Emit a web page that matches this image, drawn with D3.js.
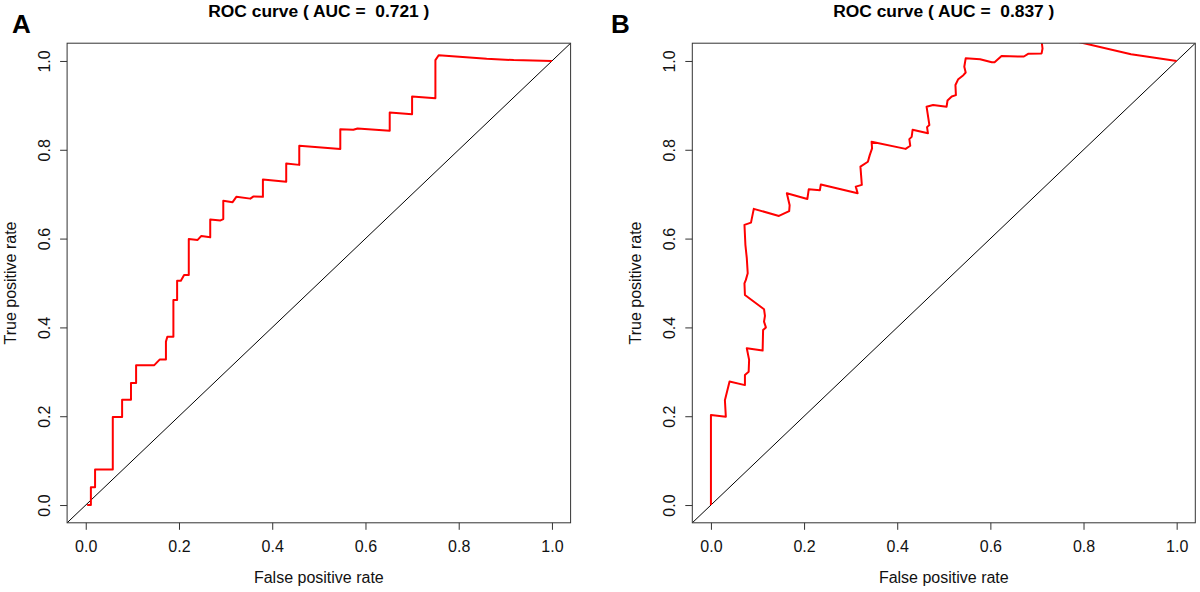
<!DOCTYPE html>
<html>
<head>
<meta charset="utf-8">
<script src="https://cdn.jsdelivr.net/npm/d3@7"></script>
<style>
  html, body { margin: 0; padding: 0; background: #fff; }
  svg text { font-family: "Liberation Sans", Arial, sans-serif; }
</style>
</head>
<body>
<svg id="chart" width="1200" height="592"></svg>
<script>
// ---- data ----
const tickValues = [0, 0.2, 0.4, 0.6, 0.8, 1.0];
const panelLabels = ["A", "B"];
const titles = ["ROC curve ( AUC =  0.721 )", "ROC curve ( AUC =  0.837 )"];
const xLabel = "False positive rate";
const yLabel = "True positive rate";

const fprA = [0.003,0.011,0.011,0.02,0.02,0.058,0.058,0.078,0.078,0.097,0.097,0.108,0.108,0.147,0.159,0.172,0.172,0.175,0.188,0.188,0.196,0.196,0.204,0.211,0.221,0.221,0.24,0.248,0.267,0.267,0.289,0.295,0.295,0.315,0.323,0.353,0.36,0.38,0.38,0.43,0.43,0.458,0.458,0.546,0.546,0.574,0.583,0.652,0.652,0.70,0.70,0.75,0.75,0.757,0.86,0.918,1.0];
const tprA = [0,0,0.04,0.04,0.08,0.08,0.198,0.198,0.237,0.237,0.275,0.275,0.315,0.315,0.328,0.328,0.368,0.379,0.379,0.462,0.462,0.505,0.505,0.518,0.518,0.599,0.597,0.606,0.603,0.643,0.641,0.644,0.685,0.682,0.694,0.690,0.695,0.694,0.733,0.728,0.769,0.766,0.809,0.802,0.846,0.845,0.848,0.843,0.884,0.88,0.92,0.916,1.002,1.013,1.005,1.002,1.0];

const fprB = [0,0,0.032,0.030,0.04,0.073,0.073,0.081,0.082,0.077,0.111,0.112,0.118,0.114,0.116,0.114,0.073,0.072,0.075,0.079,0.077,0.074,0.072,0.086,0.092,0.146,0.168,0.169,0.163,0.207,0.21,0.234,0.236,0.315,0.311,0.324,0.321,0.337,0.341,0.346,0.345,0.418,0.428,0.426,0.431,0.433,0.466,0.464,0.469,0.463,0.477,0.506,0.508,0.517,0.526,0.525,0.531,0.542,0.547,0.544,0.547,0.578,0.603,0.609,0.624,0.664,0.672,0.681,0.71,0.712,0.71,0.742,0.78,0.902,0.924,1.0];
const tprB = [0,0.203,0.199,0.236,0.278,0.27,0.293,0.30,0.327,0.353,0.348,0.394,0.40,0.413,0.426,0.441,0.473,0.499,0.507,0.522,0.556,0.586,0.631,0.636,0.667,0.651,0.662,0.675,0.702,0.689,0.711,0.709,0.722,0.702,0.717,0.721,0.762,0.773,0.788,0.803,0.818,0.802,0.809,0.824,0.829,0.845,0.837,0.851,0.856,0.897,0.901,0.897,0.911,0.92,0.923,0.946,0.959,0.968,0.974,0.987,1.006,1.004,0.997,0.997,1.011,1.01,1.01,1.016,1.017,1.028,1.045,1.045,1.045,1.015,1.012,1.0];

const panels = [
  { fpr: fprA, tpr: tprA, left: 67.1, right: 570.6, labelX: 12 },
  { fpr: fprB, tpr: tprB, left: 692.3, right: 1195.3, labelX: 611 }
];
const plotTop = 43.2, plotBottom = 522.8;
const fontStack = "'Liberation Sans', Arial, sans-serif";

const svg = d3.select("#chart");

panels.forEach((p, i) => {
  const x = d3.scaleLinear().domain([-0.04, 1.04]).range([p.left, p.right]);
  const y = d3.scaleLinear().domain([-0.04, 1.04]).range([plotBottom, plotTop]);
  const g = svg.append("g");

  const clipId = "clip" + i;
  svg.append("clipPath").attr("id", clipId)
    .append("rect").attr("x", p.left).attr("y", plotTop)
    .attr("width", p.right - p.left).attr("height", plotBottom - plotTop);

  // diagonal
  g.append("line")
    .attr("clip-path", `url(#${clipId})`)
    .attr("x1", x(-0.04)).attr("y1", y(-0.04))
    .attr("x2", x(1.04)).attr("y2", y(1.04))
    .attr("stroke", "#000").attr("stroke-width", 1);

  // ROC curve
  const pts = p.fpr.map((v, k) => [v, p.tpr[k]]);
  g.append("path")
    .datum(pts)
    .attr("clip-path", `url(#${clipId})`)
    .attr("fill", "none")
    .attr("stroke", "#ff0000")
    .attr("stroke-width", 2)
    .attr("stroke-linejoin", "round")
    .attr("d", d3.line().x(d => x(d[0])).y(d => y(d[1])));

  // box
  g.append("rect")
    .attr("x", p.left).attr("y", plotTop)
    .attr("width", p.right - p.left).attr("height", plotBottom - plotTop)
    .attr("fill", "none").attr("stroke", "#333").attr("stroke-width", 1);

  // x axis
  const xAxis = g.append("g").attr("transform", `translate(0,${plotBottom})`)
    .call(d3.axisBottom(x).tickValues(tickValues).tickSize(7).tickPadding(0).tickFormat(d3.format(".1f")));
  xAxis.select(".domain").remove();
  xAxis.selectAll(".tick line").attr("stroke", "#333");
  xAxis.selectAll(".tick text").attr("font-size", 16).attr("fill", "#111")
    .attr("y", 29).attr("dy", 0)
    .style("font-family", fontStack);

  // y axis
  const yAxis = g.append("g").attr("transform", `translate(${p.left},0)`)
    .call(d3.axisLeft(y).tickValues(tickValues).tickSize(7).tickFormat(d3.format(".1f")));
  yAxis.select(".domain").remove();
  yAxis.selectAll(".tick line").attr("stroke", "#333");
  yAxis.selectAll(".tick text")
    .attr("x", null).attr("dy", null)
    .attr("text-anchor", "middle")
    .attr("transform", "translate(-17,0) rotate(-90)")
    .attr("font-size", 16).attr("fill", "#111")
    .style("font-family", fontStack);

  // axis titles
  g.append("text")
    .attr("x", (p.left + p.right) / 2).attr("y", 583)
    .attr("text-anchor", "middle").attr("font-size", 16).attr("fill", "#111")
    .text(xLabel);
  g.append("text")
    .attr("transform", `translate(${p.left - 51},${(plotTop + plotBottom) / 2}) rotate(-90)`)
    .attr("text-anchor", "middle").attr("font-size", 16).attr("fill", "#111")
    .text(yLabel);

  // title
  g.append("text")
    .attr("x", (p.left + p.right) / 2).attr("y", 17)
    .attr("text-anchor", "middle").attr("font-size", 17.4).attr("font-weight", "bold")
    .attr("fill", "#000").style("white-space", "pre")
    .text(titles[i]);

  // panel label
  g.append("text")
    .attr("x", p.labelX).attr("y", 33)
    .attr("font-size", 26).attr("font-weight", "bold").attr("fill", "#000")
    .text(panelLabels[i]);
});
</script>
</body>
</html>
